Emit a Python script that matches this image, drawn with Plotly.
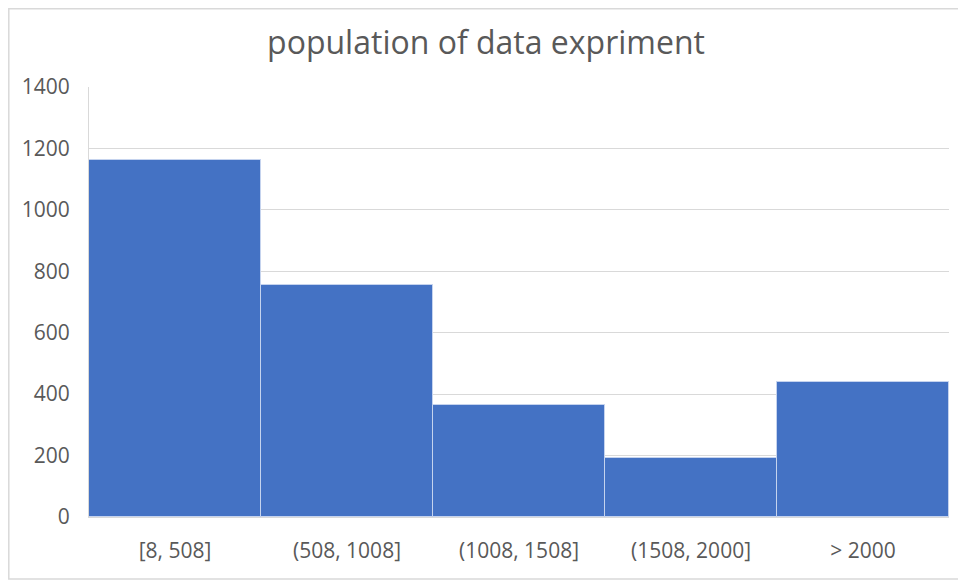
import plotly.graph_objects as go

categories = ["[8, 508]", "(508, 1008]", "(1008, 1508]", "(1508, 2000]", "> 2000"]
counts = [1163, 755, 366, 193, 438]
y_ticks = [0, 200, 400, 600, 800, 1000, 1200, 1400]

# page body has an 8px margin, so the figure is sized/offset to compensate
OFF = 8
W, H = 966 - OFF, 580 - OFF
L = 89 - OFF
T = 87 - OFF
R = 966 - 949.5
B = 580 - 517
pw, ph = W - L - R, H - T - B

fig = go.Figure(go.Bar(
    x=categories, y=counts,
    marker=dict(color="#4472C4", line=dict(color="#C5D3EE", width=1)),
    hoverinfo="x+y",
))

font_family = "Open Sans, Noto Sans, sans-serif"
grey = "#595959"

fig.update_layout(
    width=W, height=H,
    margin=dict(l=L, r=R, t=T, b=B),
    paper_bgcolor="white", plot_bgcolor="white",
    bargap=0,
    showlegend=False,
    title=dict(text="population of data expriment", x=(486 - OFF) / W, xref="container",
               xanchor="center", y=1 - (43 - OFF) / H, yref="container", yanchor="middle",
               font=dict(family=font_family, size=32, color=grey)),
    font=dict(family=font_family, color=grey),
    xaxis=dict(showgrid=False, showline=True, linecolor="#D9D9D9", linewidth=1,
               ticks="outside", ticklen=15, tickcolor="rgba(0,0,0,0)",
               tickfont=dict(size=21, color=grey)),
    yaxis=dict(range=[0, 1400], tickvals=y_ticks, showgrid=True, gridcolor="#D9D9D9",
               gridwidth=1, showline=True, linecolor="#D9D9D9", linewidth=1,
               zeroline=False, ticks="outside", ticklen=14, tickcolor="rgba(0,0,0,0)",
               tickfont=dict(size=21, color=grey)),
    shapes=[dict(type="rect", xref="paper", yref="paper",
                 x0=(0.75 - L) / pw, x1=(W + 5 - L) / pw,
                 y0=(H - B - (579 - OFF)) / ph, y1=(H - B - 0.75) / ph,
                 line=dict(color="#D9D9D9", width=1.5), layer="below")],
)

fig.write_html("out.html")
